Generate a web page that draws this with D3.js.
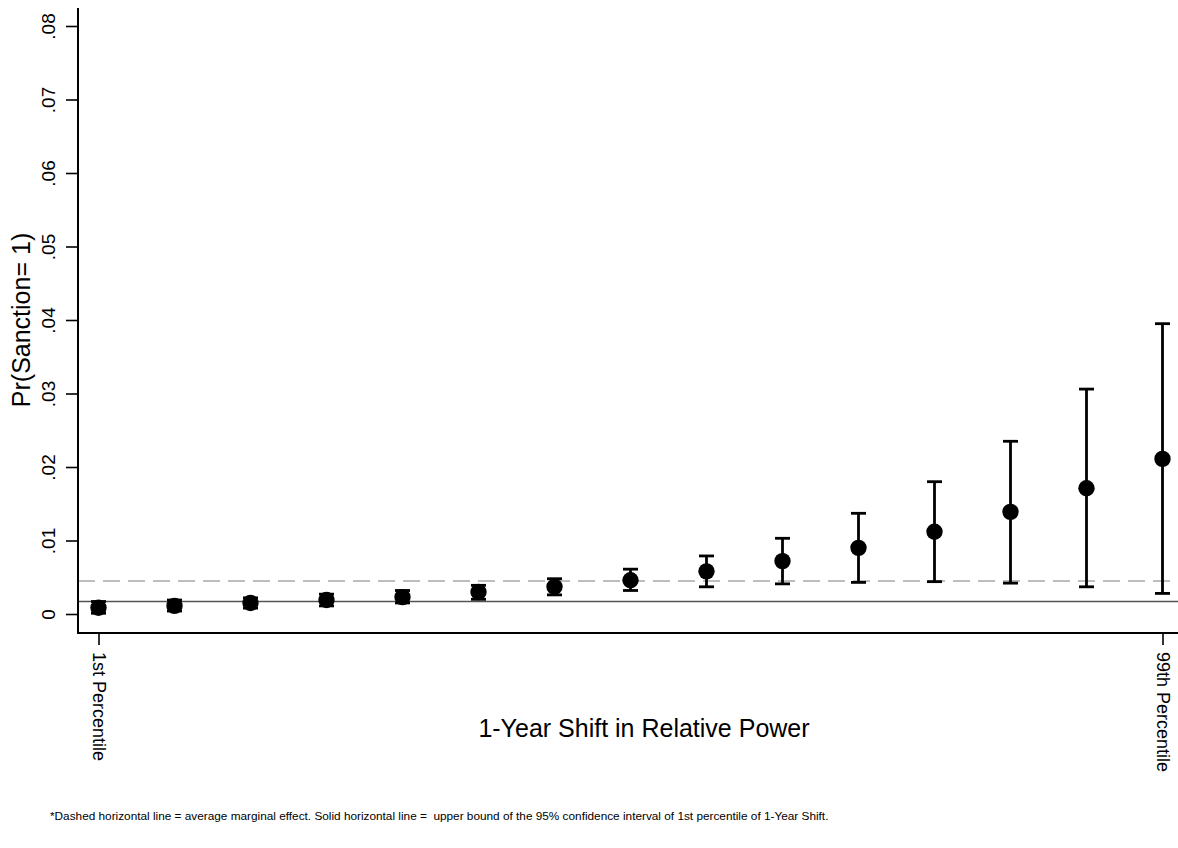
<!DOCTYPE html>
<html>
<head>
<meta charset="utf-8">
<script src="https://cdn.jsdelivr.net/npm/d3@7"></script>
<style>
  html, body { margin: 0; padding: 0; background: #fff; }
  svg { display: block; font-family: "Liberation Sans", Arial, Helvetica, sans-serif; }
</style>
</head>
<body>
<svg id="chart" width="1178" height="848"></svg>
<script>
// Predicted Pr(Sanction = 1) across 15 steps of the 1-year shift in relative power
const steps = [1, 2, 3, 4, 5, 6, 7, 8, 9, 10, 11, 12, 13, 14, 15];
const estimate = [0.00086, 0.0011, 0.0015, 0.0019, 0.0023, 0.0030, 0.0037, 0.0046, 0.0058, 0.0072, 0.0090, 0.0112, 0.0139, 0.0171, 0.0211];
const ciLow  = [0.0001, 0.0004, 0.0008, 0.0011, 0.0015, 0.0020, 0.0026, 0.0032, 0.0037, 0.0041, 0.0043, 0.0044, 0.0042, 0.0037, 0.0028];
const ciHigh = [0.0017, 0.0019, 0.0022, 0.0027, 0.0032, 0.0039, 0.0048, 0.0061, 0.0079, 0.0103, 0.0137, 0.0180, 0.0235, 0.0306, 0.0395];

const avgMarginalEffect = 0.0045;   // dashed reference line
const firstPctUpperBound = 0.0017;  // solid reference line

const yTicks = [0, 0.01, 0.02, 0.03, 0.04, 0.05, 0.06, 0.07, 0.08];
const xTickValues = [1, 15];
const xTickLabels = ["1st Percentile", "99th Percentile"];

const yTitle = "Pr(Sanction= 1)";
const xTitle = "1-Year Shift in Relative Power";
const note = "*Dashed horizontal line = average marginal effect. Solid horizontal line =  upper bound of the 95% confidence interval of 1st percentile of 1-Year Shift.";

const rows = steps.map((s, i) => ({ step: s, est: estimate[i], lo: ciLow[i], hi: ciHigh[i] }));

const svg = d3.select("#chart");
const plotLeft = 78, plotRight = 1178, plotTop = 8, plotBottom = 633;

const x = d3.scaleLinear().domain([1, 15]).range([98.5, 1162.5]);
const y = d3.scaleLinear().domain([0, 0.08]).range([614, 26]);

// Reference lines
svg.append("line")
  .attr("x1", plotLeft).attr("x2", plotRight)
  .attr("y1", y(avgMarginalEffect)).attr("y2", y(avgMarginalEffect))
  .attr("stroke", "#a8a8a8").attr("stroke-width", 1.4)
  .attr("stroke-dasharray", "17,8");

svg.append("line")
  .attr("x1", plotLeft).attr("x2", plotRight)
  .attr("y1", y(firstPctUpperBound)).attr("y2", y(firstPctUpperBound))
  .attr("stroke", "#555").attr("stroke-width", 1.5);

// Confidence intervals with caps
const bars = svg.append("g").attr("stroke", "#000").attr("stroke-width", 2.8);
bars.selectAll("line.stem").data(rows).join("line").attr("class", "stem")
  .attr("x1", d => x(d.step)).attr("x2", d => x(d.step))
  .attr("y1", d => y(d.lo)).attr("y2", d => y(d.hi));
bars.selectAll("line.capHi").data(rows).join("line").attr("class", "capHi")
  .attr("x1", d => x(d.step) - 7.5).attr("x2", d => x(d.step) + 7.5)
  .attr("y1", d => y(d.hi)).attr("y2", d => y(d.hi));
bars.selectAll("line.capLo").data(rows).join("line").attr("class", "capLo")
  .attr("x1", d => x(d.step) - 7.5).attr("x2", d => x(d.step) + 7.5)
  .attr("y1", d => y(d.lo)).attr("y2", d => y(d.lo));

// Point estimates
svg.append("g").selectAll("circle").data(rows).join("circle")
  .attr("cx", d => x(d.step)).attr("cy", d => y(d.est))
  .attr("r", 8.2).attr("fill", "#000");

// Y axis
const fmt = d => d === 0 ? "0" : d3.format(".2f")(d).replace(/^0/, "");
const yAxis = svg.append("g").attr("transform", `translate(${plotLeft},0)`)
  .call(d3.axisLeft(y).tickValues(yTicks).tickFormat(fmt).tickSize(12).tickSizeOuter(0));
yAxis.select(".domain").remove();
yAxis.append("line").attr("x1", 0).attr("x2", 0).attr("y1", plotTop).attr("y2", plotBottom)
  .attr("stroke", "#000").attr("stroke-width", 2);
yAxis.selectAll(".tick line").attr("stroke", "#000").attr("stroke-width", 1.6);
yAxis.selectAll(".tick text")
  .attr("x", null).attr("dy", null)
  .attr("transform", "translate(-29.5,0) rotate(-90)")
  .attr("text-anchor", "middle").attr("dy", "0.35em")
  .attr("font-size", 19).attr("fill", "#000")
  .style("font-family", "'Liberation Sans', Arial, sans-serif");

// X axis
const xAxis = svg.append("g").attr("transform", `translate(0,${plotBottom})`)
  .call(d3.axisBottom(x).tickValues(xTickValues)
    .tickFormat((d, i) => xTickLabels[i]).tickSize(12).tickSizeOuter(0));
xAxis.select(".domain").remove();
xAxis.append("line").attr("x1", plotLeft - 1).attr("x2", plotRight).attr("y1", 0).attr("y2", 0)
  .attr("stroke", "#000").attr("stroke-width", 2);
xAxis.selectAll(".tick line").attr("stroke", "#000").attr("stroke-width", 1.6);
xAxis.selectAll(".tick text")
  .attr("y", null).attr("dy", null)
  .attr("transform", "translate(0,19) rotate(90)")
  .attr("text-anchor", "start").attr("dy", "0.35em")
  .attr("font-size", 18).attr("fill", "#000")
  .style("font-family", "'Liberation Sans', Arial, sans-serif");

// Axis titles
svg.append("text")
  .attr("transform", `translate(30,${y(0.04)}) rotate(-90)`)
  .attr("text-anchor", "middle").attr("font-size", 25).attr("fill", "#000")
  .text(yTitle);

svg.append("text")
  .attr("x", 644).attr("y", 737)
  .attr("text-anchor", "middle").attr("font-size", 25).attr("fill", "#000")
  .text(xTitle);

// Footnote
svg.append("text")
  .attr("x", 50).attr("y", 820)
  .attr("font-size", 11.8).attr("fill", "#000")
  .attr("xml:space", "preserve")
  .style("white-space", "pre")
  .text(note);
</script>
</body>
</html>
